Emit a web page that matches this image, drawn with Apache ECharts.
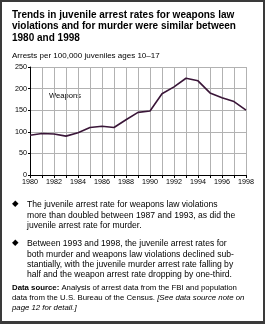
<!DOCTYPE html>
<html lang="en">
<head>
    <meta charset="UTF-8">
    <title>Juvenile arrest rates for weapons law violations</title>
    <style>
        body { margin: 0; background: #fff; }
        div#container { width: 265px; height: 324px; position: absolute; left: 0; top: 0; }
        div#frame {
            position: absolute; left: 0; top: 0; width: 265px; height: 324px;
            box-sizing: border-box; pointer-events: none;
            border: 2px solid #3a3a3a; border-bottom-width: 3px;
        }
    </style>
</head>
<body>
    <div id="container"></div>
    <div id="frame"></div>
    <script src="https://cdn.jsdelivr.net/npm/echarts@6/dist/echarts.min.js"></script>
    <script>
        // years on the x axis
        var years = ['1980', '1981', '1982', '1983', '1984', '1985', '1986', '1987', '1988', '1989',
                     '1990', '1991', '1992', '1993', '1994', '1995', '1996', '1997', '1998'];
        // arrests per 100,000 juveniles ages 10-17, weapons law violations
        var weapons = [92, 96, 95, 90, 98, 110, 113, 110, 128, 145, 148, 188, 204, 224, 218, 190, 179, 170, 150];

        var titleLines = [
            'Trends in juvenile arrest rates for weapons law',
            'violations and for murder were similar between',
            '1980 and 1998'
        ];
        var unitText = 'Arrests per 100,000 juveniles ages 10\u201317';
        var bullet1 = [
            'The juvenile arrest rate for weapons law violations',
            'more than doubled between 1987 and 1993, as did the',
            'juvenile arrest rate for murder.'
        ];
        var bullet2 = [
            'Between 1993 and 1998, the juvenile arrest rates for',
            'both murder and weapons law violations declined sub-',
            'stantially, with the juvenile murder arrest rate falling by',
            'half and the weapon arrest rate dropping by one-third.'
        ];

        var FONT = '"Liberation Sans", Arial, Helvetica, sans-serif';
        var ele = document.getElementById('container');
        var chart = echarts.init(ele, null, { renderer: 'canvas' });

        var options = {
            animation: false,
            textStyle: { fontFamily: FONT },
            grid: { left: 30, right: 19, top: 67, bottom: 149 },
            xAxis: {
                type: 'category',
                data: years,
                boundaryGap: false,
                axisLine: { lineStyle: { color: '#000', width: 1 } },
                axisTick: { show: true, length: 3, interval: 0, lineStyle: { color: '#000' } },
                axisLabel: { interval: 1, fontSize: 7.2, color: '#000', margin: 4, fontFamily: FONT },
                splitLine: { show: true, interval: 0, lineStyle: { color: '#b2b2b2', width: 1 } }
            },
            yAxis: {
                type: 'value',
                min: 0,
                max: 250,
                interval: 50,
                axisLine: { show: true, lineStyle: { color: '#000', width: 1 } },
                axisTick: { show: true, length: 2, lineStyle: { color: '#000' } },
                axisLabel: { fontSize: 7.2, color: '#000', margin: 3, fontFamily: FONT },
                splitLine: { show: true, lineStyle: { color: '#b2b2b2', width: 1 } }
            },
            series: [{
                name: 'Weapons',
                type: 'line',
                data: weapons,
                symbol: 'none',
                lineStyle: { color: '#3a1638', width: 1.6 }
            }],
            graphic: [
                { type: 'text', left: 12, top: 9,
                  style: { text: titleLines.join('\n'), font: 'bold 10px ' + FONT, lineHeight: 11.5, fill: '#000' } },
                { type: 'text', left: 12, top: 52,
                  style: { text: unitText, font: '8px ' + FONT, fill: '#000' } },
                { type: 'text', left: 49, top: 92,
                  style: { text: 'Weapons', font: '7.6px ' + FONT, fill: '#000' } },
                { type: 'text', left: 12, top: 199,
                  style: { text: '\u25C6', font: '8.5px "DejaVu Sans"', fill: '#000' } },
                { type: 'text', left: 27, top: 200,
                  style: { text: bullet1.join('\n'), font: '8.6px ' + FONT, lineHeight: 10.2, fill: '#000' } },
                { type: 'text', left: 12, top: 238,
                  style: { text: '\u25C6', font: '8.5px "DejaVu Sans"', fill: '#000' } },
                { type: 'text', left: 27, top: 239,
                  style: { text: bullet2.join('\n'), font: '8.6px ' + FONT, lineHeight: 10.2, fill: '#000' } },
                { type: 'text', left: 12, top: 283,
                  style: {
                      text: '{b|Data source:} Analysis of arrest data from the FBI and population\n' +
                            'data from the U.S. Bureau of the Census. {i|[See data source note on}\n' +
                            '{i|page 12 for detail.]}',
                      font: '7.8px ' + FONT,
                      lineHeight: 10,
                      fill: '#000',
                      rich: {
                          b: { font: 'bold 7.8px ' + FONT, lineHeight: 10 },
                          i: { font: 'italic 7.8px ' + FONT, lineHeight: 10 }
                      }
                  } }
            ]
        };
        chart.setOption(options);
    </script>
</body>
</html>
